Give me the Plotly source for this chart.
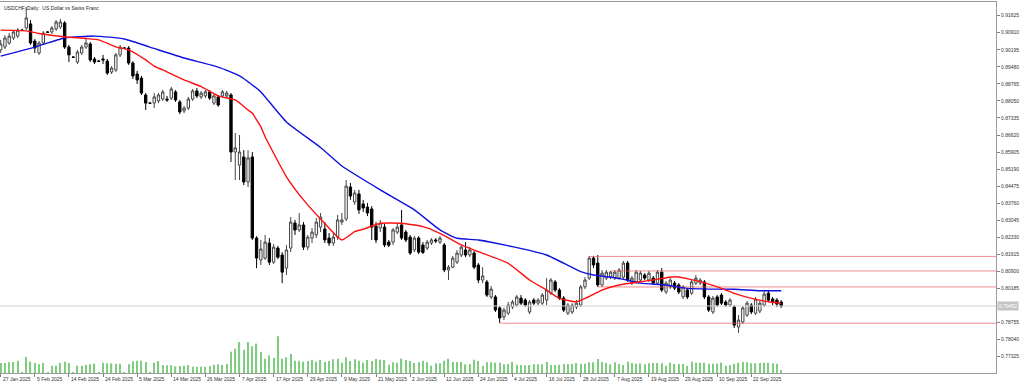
import plotly.graph_objects as go

# ---------------- data ----------------
opens = [0.9019,0.9031,0.9048,0.9069,0.9077,0.9102,0.9111,0.9128,0.9056,0.9006,
         0.9048,0.9094,0.9094,0.9107,0.9115,0.9132,0.9031,0.8989,0.8968,0.9006,
         0.9031,0.9044,0.8981,0.8972,0.8981,0.8972,0.8926,0.8935,0.8998,0.9027,
         0.9027,0.8964,0.8918,0.8901,0.8830,0.8796,0.8796,0.8805,0.8813,0.8813,
         0.8817,0.8843,0.8801,0.8763,0.8775,0.8813,0.8847,0.8822,0.8826,0.8843,
         0.8796,0.8822,0.8826,0.8826,0.8830,0.8591,0.8536,0.8570,0.8465,0.8570,
         0.8230,0.8138,0.8146,0.8209,0.8129,0.8188,0.8159,0.8104,0.8188,0.8293,
         0.8264,0.8285,0.8192,0.8230,0.8243,0.8276,0.8268,0.8230,0.8209,0.8234,
         0.8297,0.8310,0.8444,0.8381,0.8415,0.8373,0.8360,0.8352,0.8280,0.8272,
         0.8276,0.8213,0.8213,0.8255,0.8285,0.8255,0.8234,0.8180,0.8230,0.8201,
         0.8188,0.8209,0.8222,0.8213,0.8201,0.8096,0.8108,0.8129,0.8159,0.8180,
         0.8159,0.8167,0.8117,0.8054,0.8046,0.7983,0.7983,0.7937,0.7899,0.7915,
         0.7941,0.7949,0.7978,0.7970,0.7920,0.7970,0.7957,0.7957,0.7970,0.7999,
         0.8046,0.8012,0.7978,0.7915,0.7920,0.7941,0.7949,0.8025,0.8062,0.8146,
         0.8125,0.8033,0.8062,0.8066,0.8062,0.8062,0.8066,0.8125,0.8041,0.8046,
         0.8054,0.8075,0.8054,0.8062,0.8041,0.8087,0.8004,0.8025,0.8041,0.8033,
         0.7983,0.8012,0.7999,0.8041,0.8041,0.8046,0.7983,0.7920,0.7983,0.7991,
         0.7962,0.7949,0.7941,0.7857,0.7878,0.7907,0.7949,0.7915,0.7924,0.7949,
         0.7999,0.7974,0.7970,0.7962]
highs = [0.9061,0.9081,0.9090,0.9102,0.9111,0.9107,0.9199,0.9144,0.9065,0.9056,
         0.9098,0.9098,0.9119,0.9144,0.9149,0.9140,0.9040,0.8993,0.9019,0.9040,
         0.9065,0.9052,0.8989,0.8977,0.8998,0.8981,0.8951,0.9006,0.9040,0.9031,
         0.9035,0.8972,0.8931,0.8910,0.8838,0.8801,0.8838,0.8838,0.8851,0.8826,
         0.8864,0.8851,0.8809,0.8784,0.8822,0.8855,0.8859,0.8847,0.8851,0.8851,
         0.8834,0.8830,0.8851,0.8847,0.8838,0.8671,0.8662,0.8599,0.8599,0.8591,
         0.8238,0.8222,0.8243,0.8230,0.8205,0.8197,0.8171,0.8201,0.8318,0.8306,
         0.8335,0.8297,0.8243,0.8272,0.8314,0.8335,0.8297,0.8251,0.8255,0.8327,
         0.8335,0.8473,0.8461,0.8432,0.8432,0.8390,0.8377,0.8364,0.8297,0.8306,
         0.8289,0.8222,0.8272,0.8289,0.8348,0.8264,0.8243,0.8238,0.8238,0.8213,
         0.8222,0.8230,0.8230,0.8238,0.8209,0.8117,0.8155,0.8180,0.8201,0.8213,
         0.8192,0.8176,0.8125,0.8108,0.8054,0.8029,0.7991,0.7945,0.7937,0.7962,
         0.7970,0.7991,0.7991,0.7978,0.7970,0.7978,0.7978,0.7999,0.8062,0.8062,
         0.8054,0.8020,0.7987,0.7957,0.7957,0.7970,0.8033,0.8066,0.8155,0.8155,
         0.8159,0.8096,0.8096,0.8092,0.8096,0.8104,0.8134,0.8134,0.8071,0.8096,
         0.8092,0.8083,0.8092,0.8071,0.8096,0.8104,0.8050,0.8062,0.8050,0.8041,
         0.8033,0.8020,0.8054,0.8075,0.8062,0.8054,0.7991,0.7987,0.7991,0.7999,
         0.7970,0.7978,0.7949,0.7907,0.7945,0.7966,0.7957,0.7983,0.7970,0.8008,
         0.8008,0.7983,0.7978,0.7970]
lows = [0.9006,0.9023,0.9040,0.9061,0.9069,0.9098,0.9102,0.9040,0.9006,0.8998,
        0.9040,0.9090,0.9086,0.9098,0.9107,0.9023,0.8968,0.8985,0.8960,0.8998,
        0.9023,0.8968,0.8960,0.8968,0.8960,0.8914,0.8918,0.8926,0.8989,0.9023,
        0.8956,0.8897,0.8876,0.8830,0.8767,0.8792,0.8775,0.8796,0.8805,0.8801,
        0.8809,0.8801,0.8750,0.8754,0.8767,0.8805,0.8817,0.8813,0.8817,0.8809,
        0.8788,0.8780,0.8817,0.8817,0.8549,0.8473,0.8473,0.8452,0.8444,0.8222,
        0.8104,0.8117,0.8138,0.8117,0.8121,0.8142,0.8041,0.8075,0.8171,0.8243,
        0.8255,0.8180,0.8180,0.8209,0.8230,0.8255,0.8209,0.8197,0.8197,0.8222,
        0.8285,0.8301,0.8390,0.8369,0.8331,0.8339,0.8322,0.8222,0.8209,0.8255,
        0.8192,0.8192,0.8201,0.8247,0.8222,0.8213,0.8159,0.8171,0.8163,0.8163,
        0.8180,0.8201,0.8209,0.8205,0.8087,0.8054,0.8104,0.8121,0.8150,0.8150,
        0.8150,0.8100,0.8041,0.8041,0.7983,0.7974,0.7920,0.7874,0.7886,0.7907,
        0.7932,0.7941,0.7949,0.7941,0.7911,0.7949,0.7949,0.7949,0.7949,0.7991,
        0.8004,0.7970,0.7920,0.7907,0.7911,0.7932,0.7941,0.8016,0.8054,0.8104,
        0.8025,0.8025,0.8054,0.8058,0.8054,0.8054,0.8058,0.8046,0.8033,0.8037,
        0.8046,0.8054,0.8046,0.8033,0.8033,0.8004,0.7995,0.8016,0.8012,0.7995,
        0.7974,0.7974,0.7991,0.8033,0.8033,0.7974,0.7920,0.7911,0.7941,0.7949,
        0.7941,0.7941,0.7853,0.7832,0.7869,0.7899,0.7911,0.7907,0.7915,0.7941,
        0.7962,0.7949,0.7941,0.7937]
closes = [0.9044,0.9069,0.9077,0.9094,0.9102,0.9101,0.9153,0.9048,0.9027,0.9048,
          0.9090,0.9093,0.9111,0.9136,0.9136,0.9031,0.8998,0.8988,0.9010,0.9031,
          0.9048,0.8977,0.8968,0.8971,0.8977,0.8922,0.8943,0.8998,0.9031,0.9026,
          0.8964,0.8910,0.8893,0.8838,0.8796,0.8795,0.8822,0.8830,0.8843,0.8809,
          0.8855,0.8809,0.8759,0.8775,0.8813,0.8847,0.8826,0.8838,0.8843,0.8817,
          0.8826,0.8788,0.8843,0.8838,0.8591,0.8608,0.8591,0.8465,0.8566,0.8230,
          0.8146,0.8184,0.8213,0.8129,0.8192,0.8150,0.8087,0.8180,0.8297,0.8264,
          0.8285,0.8192,0.8234,0.8255,0.8297,0.8318,0.8222,0.8209,0.8234,0.8306,
          0.8306,0.8448,0.8406,0.8419,0.8348,0.8356,0.8335,0.8276,0.8222,0.8293,
          0.8201,0.8200,0.8264,0.8276,0.8230,0.8222,0.8167,0.8230,0.8171,0.8170,
          0.8213,0.8222,0.8218,0.8230,0.8096,0.8108,0.8146,0.8167,0.8192,0.8159,
          0.8180,0.8108,0.8054,0.8071,0.7991,0.8016,0.7928,0.7895,0.7928,0.7949,
          0.7962,0.7983,0.7957,0.7949,0.7962,0.7957,0.7970,0.7991,0.8012,0.8054,
          0.8012,0.7978,0.7928,0.7949,0.7949,0.7957,0.8025,0.8054,0.8146,0.8117,
          0.8033,0.8083,0.8087,0.8087,0.8087,0.8096,0.8125,0.8054,0.8062,0.8087,
          0.8083,0.8062,0.8083,0.8041,0.8087,0.8012,0.8041,0.8054,0.8020,0.8004,
          0.8025,0.7983,0.8046,0.8062,0.8054,0.7983,0.7928,0.7978,0.7949,0.7957,
          0.7949,0.7970,0.7865,0.7886,0.7937,0.7957,0.7920,0.7974,0.7957,0.7995,
          0.7970,0.7962,0.7953,0.7945]
volumes = [30000,30000,32000,33000,37000,1000,48000,34000,30000,26000,
           30000,1000,22000,22000,30000,34000,29000,1000,22000,22000,
           25000,26000,28000,1000,31000,29000,29000,28000,28000,1000,
           26000,35000,37000,37000,33000,1000,31000,36000,24000,23000,
           23000,20000,21000,22000,24000,19000,18000,19000,18000,20000,
           25000,26000,24000,27000,64000,73000,93000,70000,93000,80000,
           88000,63000,43000,53000,45000,110000,43000,47000,57000,37000,
           37000,34000,36000,40000,34000,39000,33000,36000,41000,43000,
           31000,47000,36000,41000,37000,31000,39000,36000,42000,40000,
           39000,25000,32000,31000,43000,39000,36000,30000,32000,37000,
           32000,22000,29000,29000,37000,43000,33000,33000,33000,26000,
           26000,40000,36000,22000,32000,32000,31000,31000,26000,27000,
           33000,25000,24000,23000,24000,26000,26000,26000,33000,24000,
           24000,25000,27000,27000,27000,30000,27000,28000,32000,32000,
           42000,33000,30000,26000,32000,27000,24000,34000,30000,28000,
           29000,26000,29000,30000,30000,29000,22000,31000,27000,27000,
           27000,21000,34000,31000,31000,31000,28000,28000,28000,31000,
           22000,23000,28000,31000,33000,32000,29000,29000,30000,31000,
           31000,29000,28000,9000]

date_labels = ["27 Jan 2025", "5 Feb 2025", "14 Feb 2025", "24 Feb 2025", "5 Mar 2025",
               "14 Mar 2025", "26 Mar 2025", "7 Apr 2025", "17 Apr 2025", "29 Apr 2025",
               "9 May 2025", "21 May 2025", "2 Jun 2025", "12 Jun 2025", "24 Jun 2025",
               "4 Jul 2025", "16 Jul 2025", "28 Jul 2025", "7 Aug 2025", "19 Aug 2025",
               "29 Aug 2025", "10 Sep 2025", "22 Sep 2025"]
bars_per_label = 8

price_ticks = [0.91625, 0.90910, 0.90195, 0.89480, 0.88765, 0.88050, 0.87335, 0.86620,
               0.85905, 0.85190, 0.84475, 0.83760, 0.83045, 0.82330, 0.81615, 0.80900,
               0.80185, 0.78755, 0.78040, 0.77325]

ma_fast_bar = [0, 6, 9, 15, 20, 23, 27, 30, 34, 36, 38, 43, 47, 51, 55, 58, 59, 61, 62, 67,
               71, 75, 80, 83, 85, 89, 94, 99, 103, 108, 112, 119, 124, 128, 131, 135, 137,
               141, 145, 150, 153, 158, 164, 169, 172, 177, 180, 183]
ma_fast_val = [0.9102, 0.9099, 0.9088, 0.9074, 0.9067, 0.9061, 0.9032, 0.9019, 0.8977, 0.8951,
               0.8935, 0.8893, 0.8865, 0.8826, 0.8809, 0.8767, 0.8753, 0.8696, 0.8655, 0.8487,
               0.8390, 0.8310, 0.8222, 0.8257, 0.8267, 0.8292, 0.8292, 0.8278, 0.8250, 0.8201,
               0.8173, 0.8124, 0.8054, 0.8012, 0.7977, 0.7963, 0.7977, 0.8012, 0.8033, 0.8047,
               0.8054, 0.8068, 0.8047, 0.8019, 0.7998, 0.7973, 0.7963, 0.7956]
ma_slow_bar = [0, 8, 15, 22, 29, 35, 43, 51, 56, 59, 61, 67, 75, 80, 89, 97, 103, 107, 112,
               120, 128, 136, 139, 145, 150, 156, 161, 166, 172, 178, 183]
ma_slow_val = [0.8993, 0.9031, 0.9069, 0.9077, 0.9065, 0.9031, 0.8985, 0.8947, 0.8910, 0.8872,
               0.8843, 0.8717, 0.8610, 0.8532, 0.8432, 0.8348, 0.8264, 0.8229, 0.8222, 0.8194,
               0.8159, 0.8089, 0.8075, 0.8061, 0.8041, 0.8033, 0.8019, 0.8016, 0.8015, 0.8009,
               0.8009]

level_prices = [0.8153, 0.8092, 0.8025, 0.7873]
level_start_bar = [138, 143, 140, 117]
bid_price = 0.79452
title_text = "USDCHF, Daily:  US Dollar vs Swiss Franc"

# ---------------- figure ----------------
n = len(closes)
bars = list(range(n))
x_range = [-0.16, 233.37]
y_range = [0.76641, 0.92199]
vol_range = [0, 1113000]
font_family = "Liberation Sans"

fig = go.Figure()

fig.add_trace(go.Bar(x=bars, y=volumes, yaxis="y2", width=0.28,
                     marker=dict(color="#80cc80", line=dict(width=0)),
                     hoverinfo="skip", showlegend=False))

for lv, st in zip(level_prices, level_start_bar):
    fig.add_trace(go.Scatter(x=[st, x_range[1]], y=[lv, lv], mode="lines",
                             line=dict(color="rgba(238,100,100,0.75)", width=1),
                             hoverinfo="skip", showlegend=False))

fig.add_trace(go.Scatter(x=[x_range[0], x_range[1]], y=[bid_price, bid_price], mode="lines",
                         line=dict(color="#d2d2d2", width=1), hoverinfo="skip", showlegend=False))

fig.add_trace(go.Candlestick(x=bars, open=opens, high=highs, low=lows, close=closes,
                             increasing=dict(line=dict(color="#454545", width=1), fillcolor="#ffffff"),
                             decreasing=dict(line=dict(color="#000000", width=1), fillcolor="#000000"),
                             whiskerwidth=0, showlegend=False))

fig.add_trace(go.Scatter(x=ma_slow_bar, y=ma_slow_val, mode="lines",
                         line=dict(color="#1010e0", width=1.4, shape="spline", smoothing=0.5),
                         hoverinfo="skip", showlegend=False))
fig.add_trace(go.Scatter(x=ma_fast_bar, y=ma_fast_val, mode="lines",
                         line=dict(color="#ff1010", width=1.4, shape="spline", smoothing=0.5),
                         hoverinfo="skip", showlegend=False))

annotations = []
for i, lab in enumerate(date_labels):
    annotations.append(dict(x=i * bars_per_label, y=0, xref="x", yref="paper", text=lab,
                            showarrow=False, xanchor="left", yanchor="top", xshift=0, yshift=-1,
                            font=dict(family=font_family, size=5, color="#333333")))
annotations.append(dict(x=0, y=1, xref="paper", yref="paper", text=title_text, showarrow=False,
                        xanchor="left", yanchor="top", xshift=2, yshift=-1,
                        font=dict(family=font_family, size=5, color="#222222")))
annotations.append(dict(x=1, y=bid_price, xref="paper", yref="y", text=f"{bid_price:.5f}",
                        showarrow=False, xanchor="left", yanchor="middle", xshift=1,
                        bgcolor="#c4c4c4", borderpad=1,
                        font=dict(family=font_family, size=5, color="#ffffff")))

fig.update_layout(
    width=1024, height=385, autosize=False,
    margin=dict(l=0, r=28, t=2, b=12, pad=0),
    paper_bgcolor="white", plot_bgcolor="white",
    boxgap=0.45, boxgroupgap=0,
    showlegend=False, hovermode=False,
    annotations=annotations,
    xaxis=dict(range=x_range, showgrid=False, zeroline=False, rangeslider=dict(visible=False),
               tickvals=[i * bars_per_label for i in range(len(date_labels))],
               ticktext=["" for _ in date_labels], ticks="outside", ticklen=3,
               tickcolor="#808080", showline=True, linecolor="#9a9a9a", linewidth=1,
               mirror=True, fixedrange=True),
    yaxis=dict(range=y_range, side="right", showgrid=False, zeroline=False,
               tickvals=price_ticks, ticktext=[f"{p:.5f}" for p in price_ticks],
               ticks="outside", ticklen=3, tickcolor="#808080",
               tickfont=dict(family=font_family, size=5, color="#333333"),
               showline=True, linecolor="#9a9a9a", linewidth=1, mirror=True, fixedrange=True),
    yaxis2=dict(range=vol_range, overlaying="y", side="left", visible=False, fixedrange=True),
)

fig.write_html("out.html", config={"displayModeBar": False},
               post_script="document.body.style.margin='0';document.body.style.overflow='hidden';")
